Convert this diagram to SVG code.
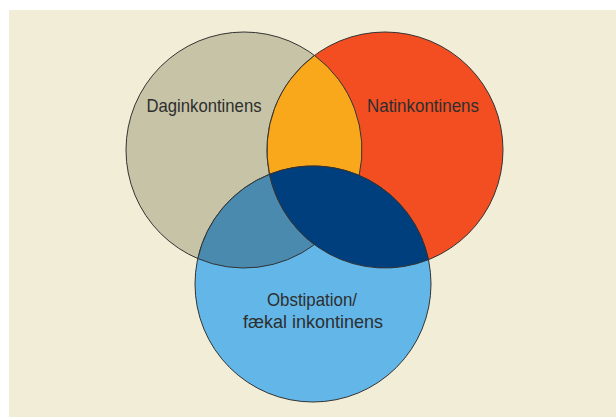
<svg xmlns="http://www.w3.org/2000/svg" width="616" height="417" viewBox="0 0 616 417">
<style>
.c{stroke:#333;stroke-width:1}
.t{font-family:"Liberation Sans",Arial,sans-serif;font-size:18.5px;fill:#2e2e2e;text-anchor:middle}
</style>
<rect x="0" y="0" width="616" height="417" fill="#ffffff"/>
<rect x="9" y="10" width="607" height="407" fill="#f2edd6"/>
<g id="daginkontinens">
<circle class="c" cx="244" cy="150" r="118" fill="#c6c3a6"/>
</g>
<g id="natinkontinens">
<circle class="c" cx="385" cy="150" r="118" fill="#f24e22"/>
</g>
<g id="obstipation">
<circle class="c" cx="313" cy="284" r="118" fill="#62b7e8"/>
</g>
<g id="overlaps">
<path id="dag-nat" class="c" fill="#f9a81b" d="M314.5,55.4 A118,118 0 0,0 269.5,174.3 A118,118 0 0,1 359.2,175.4 A118,118 0 0,0 314.5,55.4 Z"/>
<path id="dag-obs" class="c" fill="#4a8aae" d="M197.8,258.6 A118,118 0 0,1 269.5,174.3 A118,118 0 0,0 314.5,244.6 A118,118 0 0,1 197.8,258.6 Z"/>
<path id="nat-obs" class="c" fill="#003f7d" d="M269.5,174.3 A118,118 0 0,1 428.5,259.7 A118,118 0 0,1 269.5,174.3 Z"/>
</g>
<g id="labels">
<text class="t" x="204" y="112" textLength="115" lengthAdjust="spacingAndGlyphs">Daginkontinens</text>
<text class="t" x="423" y="112" textLength="112" lengthAdjust="spacingAndGlyphs">Natinkontinens</text>
<text class="t" x="312" y="306" textLength="90" lengthAdjust="spacingAndGlyphs">Obstipation/</text>
<text class="t" x="313" y="328" textLength="140" lengthAdjust="spacingAndGlyphs">fækal inkontinens</text>
</g>
</svg>
